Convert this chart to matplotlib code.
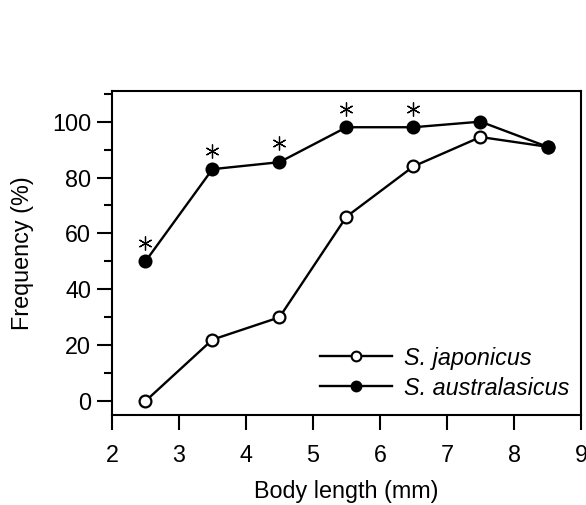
import numpy as np
import matplotlib
matplotlib.use('Agg')
import matplotlib.pyplot as plt
from matplotlib.ticker import MultipleLocator
from matplotlib.lines import Line2D

plt.rcParams['font.family'] = ['Liberation Sans', 'DejaVu Sans']

# data
body_length = [2.5, 3.5, 4.5, 5.5, 6.5, 7.5, 8.5]
japonicus = [0, 22, 30, 66, 84, 94.5, 91]
australasicus = [50, 83, 85.5, 98, 98, 100, 91]
# significance marks (asterisks)
sig_x = [2.5, 3.5, 4.5, 5.5, 6.5]
sig_y = [56.5, 89.5, 92.5, 104.5, 104.5]

fs = 16.8

fig = plt.figure(figsize=(5.86, 5.05), dpi=100)
ax = fig.add_axes([0.191, 0.178, 0.8005, 0.642])

ax.plot(body_length, japonicus, color='black', lw=1.7, marker='o', ms=8.5,
        mfc='white', mec='black', mew=1.6, zorder=3)
ax.plot(body_length, australasicus, color='black', lw=1.7, marker='o', ms=8.5,
        mfc='black', mec='black', mew=1.6, zorder=3)
ax.plot(sig_x, sig_y, linestyle='none', marker=(6, 2, 0), ms=10,
        mec='black', mew=0.9, color='black')

ax.set_xlim(2, 9)
ax.set_ylim(-5, 111)
ax.xaxis.set_major_locator(MultipleLocator(1))
ax.yaxis.set_major_locator(MultipleLocator(20))
ax.yaxis.set_minor_locator(MultipleLocator(10))

for s in ax.spines.values():
    s.set_linewidth(1.5)
ax.tick_params(which='major', direction='out', length=11, width=1.5,
               labelsize=fs, pad=4)
ax.tick_params(which='minor', direction='out', length=6, width=1.5)
ax.tick_params(axis='x', pad=10)

ax.set_xlabel('Body length (mm)', fontsize=fs, labelpad=9)
ax.set_ylabel('Frequency (%)', fontsize=fs, labelpad=13)

handles = [
    Line2D([], [], color='black', lw=1.7, marker='o', ms=7, mfc='white',
           mec='black', mew=1.5),
    Line2D([], [], color='black', lw=1.7, marker='o', ms=7, mfc='black',
           mec='black', mew=1.5),
]
labels = ['S. japonicus', 'S. australasicus']
leg = ax.legend(handles, labels, loc='lower right', frameon=False,
                prop={'size': fs, 'style': 'italic'}, handlelength=3.1,
                handletextpad=0.5, labelspacing=0.3,
                bbox_to_anchor=(1.02, -0.017))

fig.savefig('out.png', dpi=100)
